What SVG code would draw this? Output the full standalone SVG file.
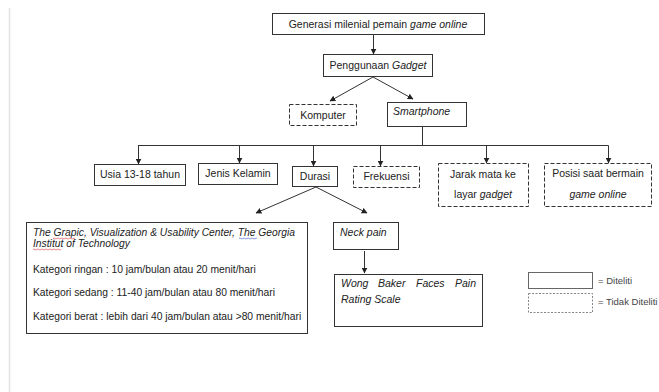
<svg xmlns="http://www.w3.org/2000/svg" width="659" height="392" viewBox="0 0 659 392">
<defs>
<marker id="ah" viewBox="0 0 10 10" refX="9" refY="5" markerWidth="6" markerHeight="6" orient="auto" markerUnits="userSpaceOnUse">
<path d="M0,0 L10,5 L0,10 z" fill="#222"/>
</marker>
<style>
.box{fill:#fff;stroke:#333;stroke-width:1}
.dash{fill:#fff;stroke:#333;stroke-width:1;stroke-dasharray:4 2}
.t{font-family:"Liberation Sans",Arial,sans-serif;font-size:10.5px;fill:#222}
.k{font-size:10.3px}
.i{font-style:italic}
.c{text-anchor:middle}
.ln{stroke:#333;stroke-width:1;fill:none}
.ar{stroke:#333;stroke-width:1;fill:none;marker-end:url(#ah)}
.lg{font-family:"Liberation Sans",Arial,sans-serif;font-size:9.5px;fill:#444}
</style>
</defs>
<rect width="659" height="392" fill="#fff"/>
<line x1="9.5" y1="8" x2="9.5" y2="392" stroke="#e2e2e2" stroke-width="1.5"/>

<g id="connectors">
<path class="ar" d="M373.5,35 V54"/>
<path class="ar" d="M373,77 L330,101"/>
<path class="ar" d="M373,77 L413,99"/>
<path class="ln" d="M422.5,127 V145.5 M138,145.5 H608.5"/>
<path class="ar" d="M138.5,145.5 V164"/>
<path class="ar" d="M239.5,145.5 V163"/>
<path class="ar" d="M313.5,145.5 V166"/>
<path class="ar" d="M380.5,145.5 V166"/>
<path class="ar" d="M486.5,145.5 V163"/>
<path class="ar" d="M608.5,145.5 V163"/>
<path class="ar" d="M316,187 L256,213"/>
<path class="ar" d="M316,187 L367,213"/>
<path class="ar" d="M364.5,251 V273"/>
</g>

<g id="generasi">
<rect class="box" x="272.5" y="13.5" width="212" height="21"/>
<text class="t c" x="378" y="27.5">Generasi milenial pemain <tspan class="i">game online</tspan></text>
</g>
<g id="penggunaan">
<rect class="box" x="323.5" y="54.5" width="109" height="22"/>
<text class="t c" x="378" y="69">Penggunaan <tspan class="i">Gadget</tspan></text>
</g>
<g id="komputer">
<rect class="dash" x="289.5" y="104.5" width="67" height="21"/>
<text class="t c" x="323" y="118.5">Komputer</text>
</g>
<g id="smartphone">
<rect class="box" x="387.5" y="102.5" width="79" height="24"/>
<text class="t i" x="393" y="115">Smartphone</text>
</g>
<g id="usia">
<rect class="box" x="94.5" y="164.5" width="91" height="21"/>
<text class="t c" x="140" y="178">Usia 13-18 tahun</text>
</g>
<g id="jenis">
<rect class="box" x="198.5" y="163.5" width="79" height="21"/>
<text class="t c" x="238" y="177">Jenis Kelamin</text>
</g>
<g id="durasi">
<rect class="box" x="292.5" y="166.5" width="45" height="20"/>
<text class="t c" x="315" y="180">Durasi</text>
</g>
<g id="frekuensi">
<rect class="dash" x="353.5" y="166.5" width="66" height="21"/>
<text class="t c" x="386.5" y="180">Frekuensi</text>
</g>
<g id="jarak">
<rect class="dash" x="438.5" y="163.5" width="90" height="43"/>
<text class="t c" x="483" y="178">Jarak mata ke</text>
<text class="t c" x="483" y="198">layar <tspan class="i">gadget</tspan></text>
</g>
<g id="posisi">
<rect class="dash" x="544.5" y="163.5" width="107" height="43"/>
<text class="t c" x="598" y="177">Posisi saat bermain</text>
<text class="t c i" x="598" y="198">game online</text>
</g>
<g id="kategori">
<rect class="box" x="26.5" y="222.5" width="281" height="111"/>
<text class="t k i" x="33" y="236">The Grapic, Visualization &amp; Usability Center, The Georgia</text>
<text class="t k i" x="33" y="247">Institut of Technology</text>
<path d="M53,238.5 q1,-1 2,0 t2,0 t2,0 t2,0 t2,0 t2,0 t2,0 t2,0 t2,0 t2,0 t2,0" stroke="#d33" stroke-width="0.6" fill="none"/>
<path d="M33,249.5 q1,-1 2,0 t2,0 t2,0 t2,0 t2,0 t2,0 t2,0 t2,0 t2,0 t2,0 t2,0 t2,0 t2,0 t2,0" stroke="#d33" stroke-width="0.6" fill="none"/>
<path d="M239,238.5 q1,-1 2,0 t2,0 t2,0 t2,0 t2,0 t2,0 t2,0 t2,0 t2,0" stroke="#35c" stroke-width="0.6" fill="none"/>
<text class="t k" x="33" y="273">Kategori ringan : 10 jam/bulan atau 20 menit/hari</text>
<text class="t k" x="33" y="296">Kategori sedang : 11-40 jam/bulan atau 80 menit/hari</text>
<text class="t k" x="33" y="320">Kategori berat : lebih dari 40 jam/bulan atau &gt;80 menit/hari</text>
</g>
<g id="neckpain">
<rect class="box" x="333.5" y="222.5" width="65" height="27"/>
<text class="t i" x="340" y="236">Neck pain</text>
</g>
<g id="wong">
<rect class="box" x="334.5" y="274.5" width="148" height="52"/>
<text class="t i" y="287"><tspan x="341">Wong</tspan> <tspan x="378">Baker</tspan> <tspan x="416">Faces</tspan> <tspan x="455">Pain</tspan></text>
<text class="t i" x="341" y="303">Rating Scale</text>
</g>
<g id="legend">
<rect x="528.5" y="272.5" width="64" height="16" fill="#fff" stroke="#666" stroke-width="1"/>
<text class="lg" x="598" y="284">= Diteliti</text>
<rect x="528.5" y="293.5" width="64" height="19" fill="#fff" stroke="#666" stroke-width="0.8" stroke-dasharray="2 1.5"/>
<text class="lg" x="598" y="305">= Tidak Diteliti</text>
</g>
</svg>
